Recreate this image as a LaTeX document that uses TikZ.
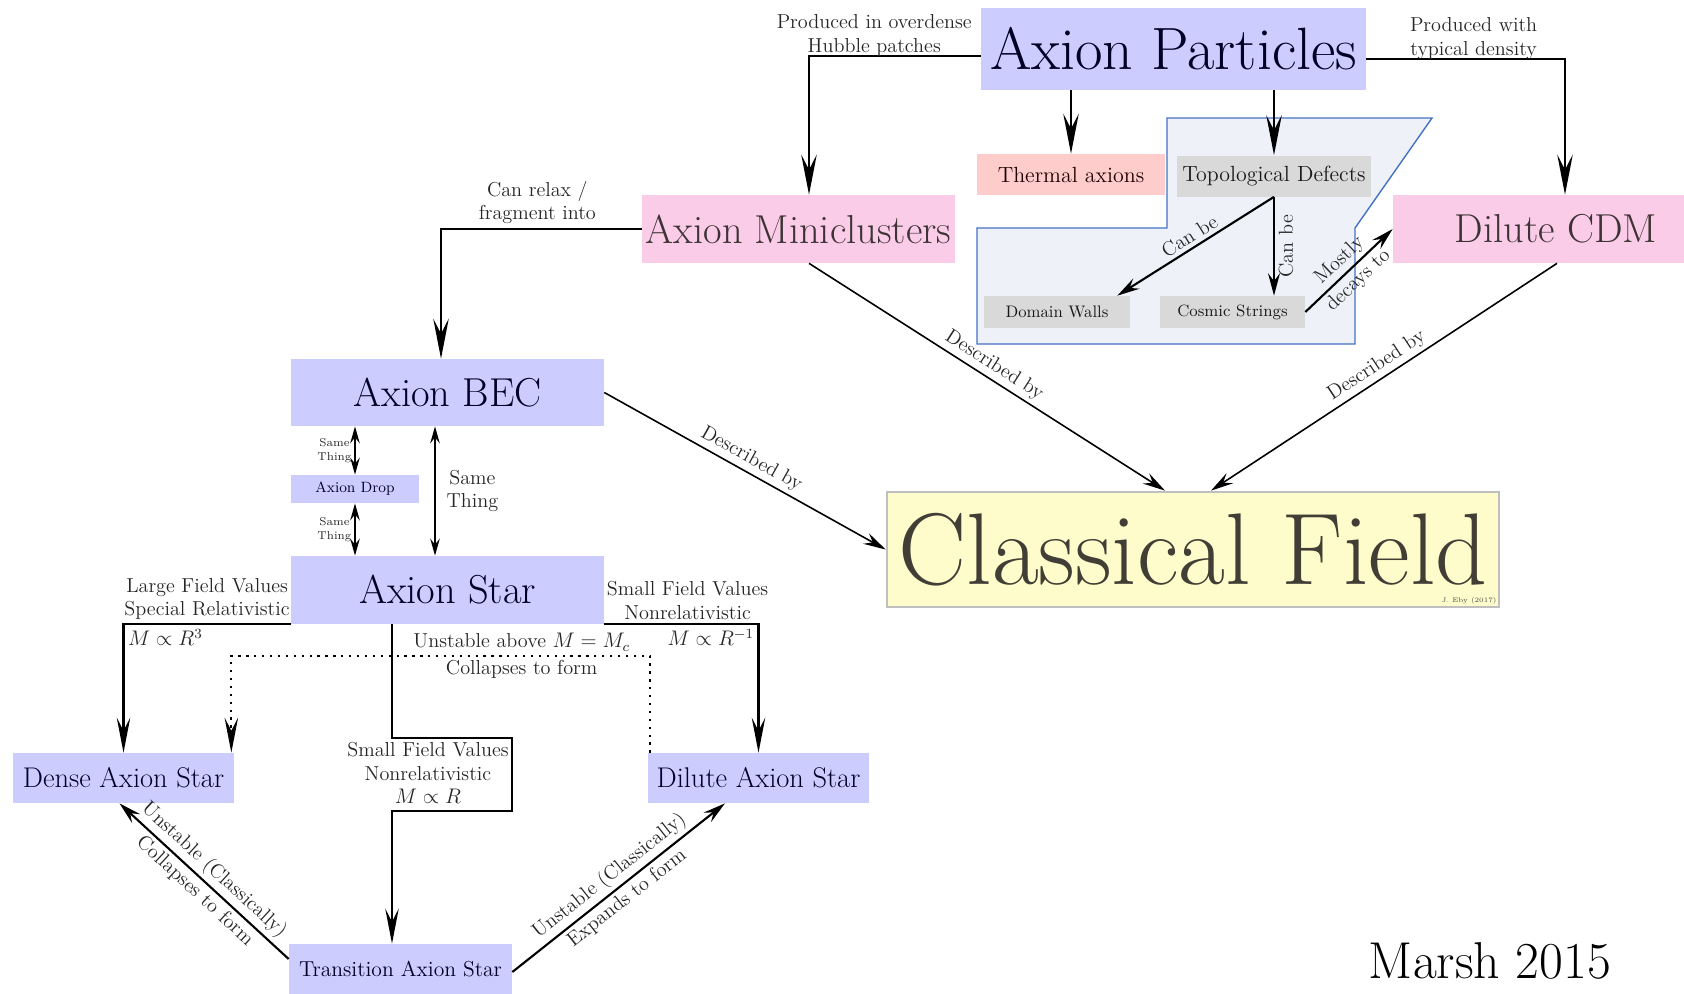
\documentclass[tikz,border=0pt]{standalone}
\usepackage{amsmath, amssymb}
\usepackage{tikz}
\usetikzlibrary{arrows.meta}
\usetikzlibrary{positioning,calc}
\usepackage{xcolor}
\definecolor{polyedge}{HTML}{4472C4}
\definecolor{polyfill}{HTML}{EEF2F8}
\tikzset{
    bigtip/.tip={Stealth[length=8mm, width=3.1mm, inset=3mm]},
    midtip/.tip={Stealth[length=7mm, width=2.7mm, inset=2.6mm]},
    smalltip/.tip={Stealth[length=4.5mm, width=2.4mm, inset=1.6mm]},
    tinytip/.tip={Stealth[length=3.4mm, width=1.9mm, inset=1.2mm]},
    bigarr/.style={draw, line width=1.6pt, -{bigtip}},
    midarr/.style={draw, line width=1.3pt, -{midtip}},
    slantarr/.style={draw, line width=1.2pt, -{smalltip}},
    thinarr/.style={draw, line width=0.9pt, -{smalltip}},
    twoway/.style={draw, line width=1.1pt, {tinytip}-{tinytip}},
    dotarr/.style={draw, line width=1.3pt, dash pattern=on 1.3pt off 3.2pt, -{midtip}},
    plainbox/.style={rectangle, inner sep=0pt},
    bluebox/.style={plainbox, fill=blue!20, text=blue!15!black},
    pinkbox/.style={plainbox, fill=magenta!20, text=magenta!12!black},
    redbox/.style={plainbox, fill=red!20, text=red!12!black},
    greybox/.style={plainbox, fill=gray!30, text=black!90},
    fieldbox/.style={plainbox, fill=yellow!20, draw=gray!50, line width=1.6pt, text=black!86!yellow},
    lbl/.style={font=\fontsize{11.5}{13.4}\selectfont, text=black!85, align=center, inner sep=2pt},
    tinylbl/.style={font=\fontsize{6.5}{8}\selectfont, text=black!85, align=center, inner sep=1.5pt}
}

\begin{document}
\begin{tikzpicture}[x=0.02cm, y=-0.02cm]
    \path[use as bounding box, fill=white] (0,0) rectangle (1684,994);

    % shaded region behind the defects
    \filldraw[draw=polyedge, fill=polyfill, line width=0.8pt] (1167,118) -- (1432,118) -- (1355,228) -- (1355,344) -- (977,344) -- (977,228) -- (1167,228) -- cycle;

    \node[bluebox, minimum width=7.7cm, minimum height=1.64cm, font=\fontsize{34}{36}\selectfont] (ap) at (1173.5,49) {Axion Particles};
    \node[redbox, minimum width=3.76cm, minimum height=0.82cm, font=\fontsize{12.5}{14}\selectfont] (therm) at (1071,174.5) {Thermal axions};
    \node[greybox, minimum width=3.88cm, minimum height=0.82cm, font=\fontsize{12.5}{14}\selectfont] (topo) at (1274,176) {Topological Defects};
    \node[pinkbox, minimum width=6.26cm, minimum height=1.36cm, font=\fontsize{23}{26}\selectfont] (mc) at (798.5,229) {Axion Miniclusters};
    \node[pinkbox, minimum width=5.82cm, minimum height=1.36cm, font=\fontsize{23}{26}\selectfont] (cdm) at (1538.5,229) {\hspace*{0.7cm}Dilute CDM};
    \node[greybox, minimum width=2.92cm, minimum height=0.64cm, font=\fontsize{9.5}{11}\selectfont] (dw) at (1057,312) {Domain Walls};
    \node[greybox, minimum width=2.9cm, minimum height=0.64cm, font=\fontsize{9.3}{11}\selectfont] (cs) at (1232.5,312) {Cosmic Strings};
    \node[bluebox, minimum width=6.26cm, minimum height=1.34cm, font=\fontsize{23}{26}\selectfont] (bec) at (447.5,392.5) {Axion BEC};
    \node[bluebox, minimum width=2.56cm, minimum height=0.56cm, font=\fontsize{8.5}{10}\selectfont] (drop) at (355,489) {Axion Drop};
    \node[bluebox, minimum width=6.26cm, minimum height=1.36cm, font=\fontsize{23}{26}\selectfont] (star) at (447.5,590) {Axion Star};
    \node[fieldbox, minimum width=12.24cm, minimum height=2.3cm, font=\fontsize{58}{62}\selectfont] (cf) at (1193,549.5) {Classical Field};
    \node[anchor=south east, inner sep=2pt, font=\fontsize{3.8}{5}\selectfont, text=black!70] (eby) at (cf.south east) {J. Eby (2017)};
    \node[bluebox, minimum width=4.42cm, minimum height=1cm, font=\fontsize{16.2}{18}\selectfont] (dense) at (123.5,778) {Dense Axion Star};
    \node[bluebox, minimum width=4.42cm, minimum height=1cm, font=\fontsize{16.2}{18}\selectfont] (dilute) at (758.5,778) {Dilute Axion Star};
    \node[bluebox, minimum width=4.46cm, minimum height=1cm, font=\fontsize{12.3}{14}\selectfont] (trans) at (400.5,969) {Transition Axion Star};
    \node[lbl] (zigtext) at (428,773) {Small Field Values\\Nonrelativistic\\$M\propto R$};
    \node[font=\fontsize{29.5}{32}\selectfont] (marsh) at (1490,961) {Marsh 2015};

    % production
    \draw[bigarr] ($(ap.west)+(0,7)$) -| node[pos=0.31, above, yshift=-3pt, lbl] {Produced in overdense\\Hubble patches} ($(mc.north)+(10.5,0)$);
    \draw[bigarr] ($(ap.east)+(0,10)$) -| node[pos=0.27, above, yshift=-3pt, lbl] {Produced with\\typical density} ($(cdm.north)+(26.5,0)$);
    \draw[bigarr] (ap.south -| therm.north) -- (therm.north);
    \draw[bigarr] (ap.south -| topo.north) -- (topo.north);

    % defects
    \draw[slantarr] (topo.south) -- node[midway, sloped, above, lbl] {Can be} ($(dw.north east)+(-13,0)$);
    \draw[slantarr] (topo.south) -- node[midway, rotate=90, anchor=north, lbl] {Can be} (topo.south |- cs.north);
    \draw[slantarr] (cs.east) -- node[midway, sloped, above, lbl] {Mostly} node[midway, sloped, below, lbl] {decays to} (cdm.west);

    % described by
    \draw[thinarr] ($(mc.south)+(10.5,0)$) -- node[midway, sloped, above, lbl] {Described by} ($(cf.north)+(-28,0)$);
    \draw[thinarr] ($(cdm.south)+(18.5,0)$) -- node[midway, sloped, above, lbl] {Described by} ($(cf.north)+(18,0)$);
    \draw[thinarr] (bec.east) -- node[midway, sloped, above, lbl] {Described by} (cf.west);

    % condensate
    \draw[bigarr] (mc.west) -| node[pos=0.26, above, lbl] {Can relax /\\fragment into} ($(bec.north)+(-6.5,0)$);
    \draw[twoway] (bec.south -| drop.north) -- node[midway, left, tinylbl] {Same\\Thing} (drop.north);
    \draw[twoway] (drop.south) -- node[midway, left, tinylbl] {Same\\Thing} (drop.south |- star.north);
    \draw[twoway] ($(bec.south)+(-12.5,0)$) -- node[midway, right=4pt, lbl] {Same\\Thing} ($(star.north)+(-12.5,0)$);

    % branches of the star
    \draw[midarr] (star.south west) -| node[pos=0.25, above, lbl] {Large Field Values\\Special Relativistic} node[pos=0.5, below right, lbl] {$M\propto R^3$} (dense.north);
    \draw[midarr] (star.south east) -| node[pos=0.27, above, lbl] {Small Field Values\\Nonrelativistic} node[pos=0.5, below left, lbl] {$M\propto R^{-1}$} (dilute.north);
    \draw[midarr] ($(star.south)+(-55.5,0)$) -- ++(0,114) -- ++(120,0) -- ++(0,73) -- ++(-120,0) -- ($(trans.north)+(-8.5,0)$);
    \draw[dotarr] ($(dilute.north west)+(2,0)$) -- ++(0,-97) -| node[pos=0.153, above, lbl] {Unstable above $M=M_c$} node[pos=0.153, below, lbl] {Collapses to form} ($(dense.north east)+(-3,0)$);

    % transition star
    \draw[slantarr] ($(trans.west)+(0,-10)$) -- node[midway, sloped, above, lbl] {Unstable (Classically)} node[midway, sloped, below, lbl] {Collapses to form} ($(dense.south)+(-4,0)$);
    \draw[slantarr] ($(trans.east)+(0,3)$) -- node[midway, sloped, above, lbl] {Unstable (Classically)} node[midway, sloped, below, lbl] {Expands to form} ($(dilute.south)+(-33.5,0)$);
\end{tikzpicture}
\end{document}
